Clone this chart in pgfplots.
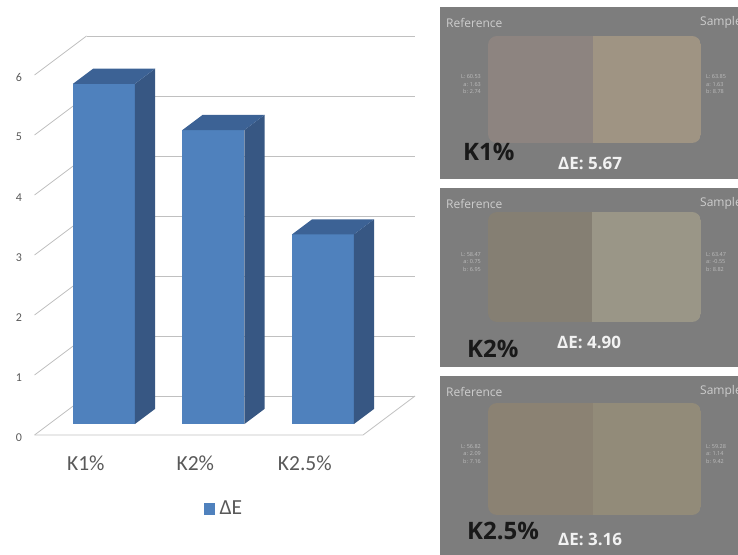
\documentclass[border=0pt]{standalone}
\usepackage{pgfplots}
\pgfplotsset{compat=1.18}
\usepackage{pgfplotstable}
\usepackage{fontspec}
\setmainfont{Carlito}
\newfontfamily\panelfont{Open Sans}

\definecolor{barfront}{RGB}{79,129,189}
\definecolor{barside}{RGB}{55,87,131}
\definecolor{bartop}{RGB}{60,98,149}
\definecolor{gridgray}{RGB}{192,192,192}
\definecolor{labelgray}{RGB}{89,89,89}
\definecolor{panelbg}{RGB}{125,125,125}
\definecolor{paneltext}{RGB}{205,205,205}

% colour difference of each sample
\pgfplotstableread{
idx dE
0   5.67
1   4.90
2   3.16
}\dEdata

% depth of the bar fronts and backs inside the box
\def\yf{0.28}
\def\yb{0.67}
\def\hw{0.283}

\begin{document}
\begin{tikzpicture}[x=1pt,y=1pt]
\useasboundingbox (0,0) rectangle (738,554);

\begin{axis}[
  at={(89.3pt,119pt)}, anchor=origin,
  x={(109.5pt,0pt)}, y={(52pt,39pt)}, z={(0pt,60pt)},
  xmin=-0.5, xmax=2.5, ymin=0, ymax=1, zmin=0, zmax=6,
  xtick={0,1,2}, xticklabels={K1\%,K2\%,K2.5\%},
  ytick=\empty,
  ztick={0,1,...,6},
  zmajorgrids,
  major grid style={gridgray, line width=0.8pt},
  axis line style={draw=none},
  major tick length=0pt,
  tick style={draw=none},
  clip=false,
  /pgf/number format/assume math mode=true,
  x tick label style={font=\fontsize{21.5}{24}\selectfont, text=labelgray, yshift=-17pt, xshift=2pt},
  z tick label style={font=\fontsize{12}{14}\selectfont, text=labelgray, xshift=-9pt},
  legend style={draw=none, fill=none, at={(axis cs:1.23,0,-1.22)}, anchor=center,
    font=\fontsize{21.5}{24}\selectfont, text=labelgray,
    /tikz/every odd column/.append style={column sep=3pt}},
]
% floor outline
\addplot3[gridgray, line width=0.8pt, forget plot] coordinates {(-0.5,0,0) (2.5,0,0) (2.5,1,0)};

\pgfplotsforeachungrouped \i in {0,1,2}{%
  \pgfplotstablegetelem{\i}{dE}\of\dEdata
  \let\v\pgfplotsretval
  \pgfmathsetmacro\xl{\i-\hw}%
  \pgfmathsetmacro\xr{\i+\hw}%
  \addplot3[fill=barfront, draw=none, forget plot] coordinates
    {(\xl,\yf,0) (\xr,\yf,0) (\xr,\yf,\v) (\xl,\yf,\v)} -- cycle;
  \addplot3[fill=barside, draw=none, forget plot] coordinates
    {(\xr,\yf,0) (\xr,\yb,0) (\xr,\yb,\v) (\xr,\yf,\v)} -- cycle;
  \addplot3[fill=bartop, draw=none, forget plot] coordinates
    {(\xl,\yf,\v) (\xr,\yf,\v) (\xr,\yb,\v) (\xl,\yb,\v)} -- cycle;
}
\addlegendimage{legend image code/.code={\fill[barfront] (0pt,-5.5pt) rectangle (10.5pt,5pt);}}
\addlegendentry{ΔE}
\end{axis}

% measurement panels
\newcommand\panel[9]{%
  % #1 bottom, #2 top, #3 swatch bottom, #4 swatch top, #5 left colour, #6 right colour,
  % #7 split x, #8 left Lab, #9 right Lab
  \fill[panelbg] (440,#1) rectangle (745,#2);
  \begin{scope}
    \clip[rounded corners=9pt] (488,#3) rectangle (701,#4);
    \fill[#5] (488,#3) rectangle (#7,#4);
    \fill[#6] (#7,#3) rectangle (701,#4);
  \end{scope}
  \node[anchor=west, text=paneltext, font=\panelfont\fontsize{12}{14}\selectfont, inner sep=0pt]
    at (446,#2-15.5) {Reference};
  \node[anchor=west, text=paneltext, font=\panelfont\fontsize{12}{14}\selectfont, inner sep=0pt]
    at (700,#2-15.5) {Sample};
  \node[anchor=east, align=right, text=paneltext!80!panelbg, inner sep=0pt,
    font=\panelfont\fontsize{5.5}{7.5}\selectfont] at (481,{(#3+#4)/2+5}) {#8};
  \node[anchor=west, align=left, text=paneltext!80!panelbg, inner sep=0pt,
    font=\panelfont\fontsize{5.5}{7.5}\selectfont] at (706,{(#3+#4)/2+5}) {#9};
}

\definecolor{swA1}{RGB}{141,132,128}
\definecolor{swA2}{RGB}{159,148,131}
\definecolor{swB1}{RGB}{133,127,115}
\definecolor{swB2}{RGB}{154,150,135}
\definecolor{swC1}{RGB}{139,130,115}
\definecolor{swC2}{RGB}{146,139,121}

\panel{375}{547}{411}{518}{swA1}{swA2}{593}{L: 60.53\\a: 1.63\\b: 2.74}{L: 63.85\\a: 1.63\\b: 8.78}
\panel{187}{366}{232}{342}{swB1}{swB2}{592}{L: 58.47\\a: 0.75\\b: 6.95}{L: 63.47\\a: -0.55\\b: 8.82}
\panel{-5}{178}{39}{151}{swC1}{swC2}{593}{L: 56.82\\a: 2.09\\b: 7.16}{L: 59.28\\a: 1.14\\b: 9.42}

\tikzset{
  sample name/.style={anchor=base west, inner sep=0pt, text=black!90,
    font=\panelfont\bfseries\fontsize{24}{28}\selectfont},
  delta value/.style={anchor=base west, inner sep=0pt, text=white!95!black,
    font=\panelfont\bfseries\fontsize{17}{20}\selectfont},
}
\node[sample name] at (463,393) {K1\%};
\node[delta value] at (558,384) {ΔE: 5.67};
\node[sample name] at (467,196) {K2\%};
\node[delta value] at (557,205) {ΔE: 4.90};
\node[sample name] at (467,15) {K2.5\%};
\node[delta value] at (558,9) {ΔE: 3.16};
\end{tikzpicture}
\end{document}
